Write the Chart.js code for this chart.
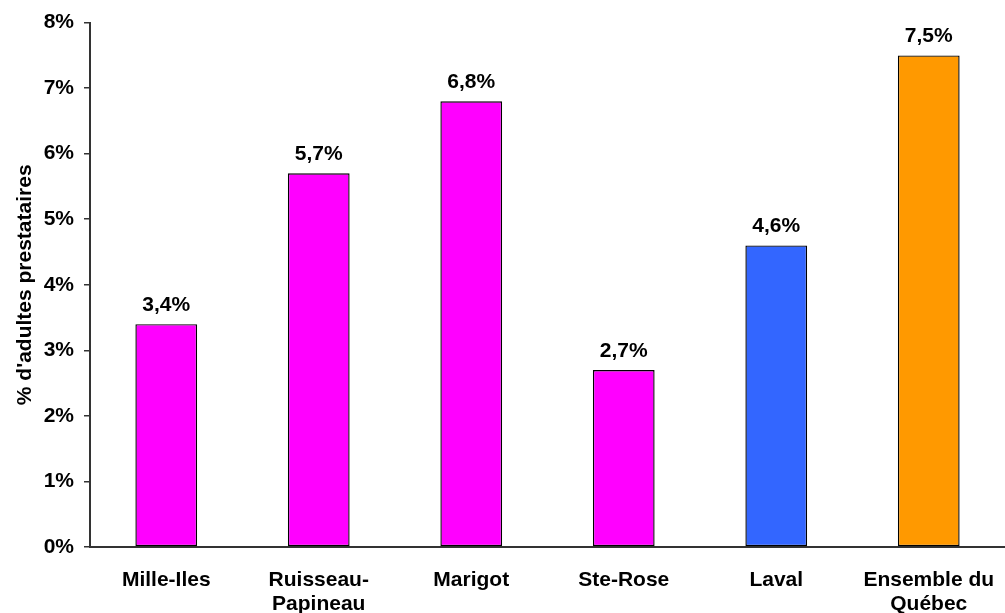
<!DOCTYPE html>
<html><head><meta charset="utf-8">
<script src="https://cdn.jsdelivr.net/npm/chart.js@4/dist/chart.umd.min.js"></script>
<style>html,body{margin:0;padding:0;background:#fff}canvas{display:block}</style>
</head><body>
<canvas id="c" width="1005" height="613"></canvas>
<script>
const categories = [["Mille-Iles"], ["Ruisseau-", "Papineau"], ["Marigot"], ["Ste-Rose"], ["Laval"], ["Ensemble du", "Québec"]];
const values = [3.4, 5.7, 6.8, 2.7, 4.6, 7.5];
const valueLabels = ["3,4%", "5,7%", "6,8%", "2,7%", "4,6%", "7,5%"];
const barColors = ["#FF00FF", "#FF00FF", "#FF00FF", "#FF00FF", "#3366FF", "#FF9900"];
const yTicks = [0, 1, 2, 3, 4, 5, 6, 7, 8];
const yTitle = "% d'adultes prestataires";

const FONT = "'Liberation Sans', Arial, sans-serif";

const labelPlugin = {
  id: 'vlabels',
  afterDatasetsDraw(chart) {
    const ctx = chart.ctx;
    const meta = chart.getDatasetMeta(0);
    ctx.save();
    ctx.font = "bold 21px " + FONT;
    ctx.fillStyle = "#000";
    ctx.textAlign = "center";
    ctx.textBaseline = "alphabetic";
    meta.data.forEach((el, i) => {
      ctx.fillText(valueLabels[i], el.x, el.y - 13);
    });
    ctx.restore();
  }
};

new Chart(document.getElementById('c'), {
  type: 'bar',
  data: {
    labels: categories,
    datasets: [{
      data: values,
      backgroundColor: barColors,
      borderColor: "#000",
      borderWidth: 1.4,
      borderSkipped: false,
      categoryPercentage: 1,
      barPercentage: 0.405
    }]
  },
  options: {
    responsive: false,
    animation: false,
    layout: { padding: { top: 21, right: 0, left: 0, bottom: 0 } },
    plugins: { legend: { display: false }, tooltip: { enabled: false } },
    scales: {
      x: {
        offset: true,
        grid: { display: false, drawTicks: false },
        border: { color: "#333", width: 2 },
        ticks: { color: "#000", font: { family: FONT, size: 21, weight: 'bold', lineHeight: 1.14 }, padding: 21, maxRotation: 0, autoSkip: false },
        afterFit(scale) { scale.height = 66; scale.paddingLeft = 0; scale.paddingRight = 0; }
      },
      y: {
        min: 0, max: 8,
        afterBuildTicks(scale) { scale.ticks = yTicks.map(v => ({ value: v })); },
        grid: { drawOnChartArea: false, drawTicks: true, tickLength: 6, color: "#333", lineWidth: 1.5 },
        border: { color: "#333", width: 2 },
        ticks: { color: "#000", font: { family: FONT, size: 21, weight: 'bold' }, padding: 10, callback: v => v + "%" },
        title: { display: true, text: yTitle, color: "#000", font: { family: FONT, size: 21, weight: 'bold' }, padding: { top: 13, bottom: 0 } },
        afterFit(scale) { scale.width = 90; }
      }
    }
  },
  plugins: [labelPlugin]
});
</script>
</body></html>
